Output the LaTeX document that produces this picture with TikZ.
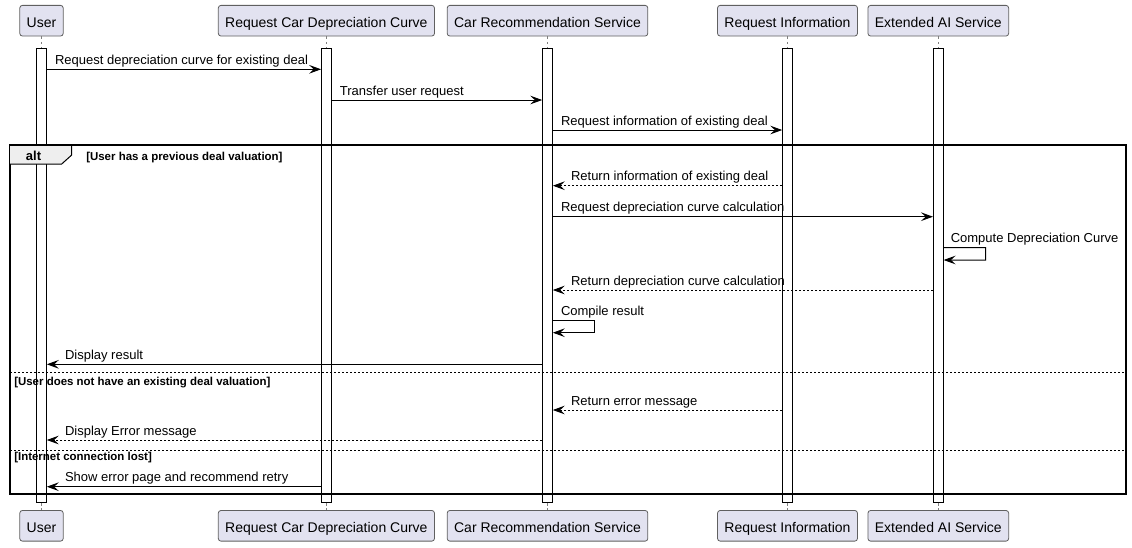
\documentclass[tikz,border=0pt]{standalone}
\usepackage{fontspec}
\setmainfont{Liberation Sans}
\usepackage{tikz}
\usetikzlibrary{arrows.meta, positioning, calc}
\usepackage{xcolor}
\definecolor{partFill}{HTML}{E2E2F0}
\definecolor{partBordo}{HTML}{606060}
\definecolor{altFill}{HTML}{EEEEEE}
\tikzset{
  partecipante/.style={draw=partBordo, fill=partFill, rounded corners=2pt, line width=0.6pt, minimum height=23pt, inner xsep=5.2pt, text height=9.9pt, text depth=0pt, font=\fontsize{10.5}{12}\selectfont},
  barra/.style={draw=black, fill=white, line width=0.75pt, minimum width=7.2pt, minimum height=340.7pt, inner sep=0pt},
  vita/.style={draw=gray, dash pattern=on 2pt off 2pt, line width=0.5pt},
  msg/.style={line width=0.75pt, -{Stealth[length=9pt, width=6.5pt, inset=3.5pt]}},
  ritorno/.style={msg, dash pattern=on 1.5pt off 1.5pt},
  etic/.style={anchor=base west, inner sep=0pt, font=\fontsize{9.75}{11}\selectfont, yshift=3.75pt},
  guardia/.style={anchor=base west, inner sep=0pt, font=\bfseries\fontsize{8.6}{10}\selectfont},
  separa/.style={line width=0.75pt, dash pattern=on 1.5pt off 1.5pt}
}

\begin{document}
\begin{tikzpicture}[x=0.75pt, y=-0.75pt]
    % Parametri
    \pgfmathsetmacro{\xU}{41.5}
    \pgfmathsetmacro{\xR}{326.4}
    \pgfmathsetmacro{\xC}{547.5}
    \pgfmathsetmacro{\xI}{787.5}
    \pgfmathsetmacro{\xE}{938.3}
    \useasboundingbox (0,0) rectangle (1132,547);
    % Partecipanti
    \node[partecipante] (userT) at (\xU,20.7) {User};
    \node[partecipante] (curveT) at (\xR,20.7) {Request Car Depreciation Curve};
    \node[partecipante] (recT) at (\xC,20.7) {Car Recommendation Service};
    \node[partecipante] (infoT) at (\xI,20.7) {Request Information};
    \node[partecipante] (aiT) at (\xE,20.7) {Extended AI Service};
    \node[partecipante] (userB) at (\xU,525.8) {User};
    \node[partecipante] (curveB) at (\xR,525.8) {Request Car Depreciation Curve};
    \node[partecipante] (recB) at (\xC,525.8) {Car Recommendation Service};
    \node[partecipante] (infoB) at (\xI,525.8) {Request Information};
    \node[partecipante] (aiB) at (\xE,525.8) {Extended AI Service};
    % Linee di vita
    \node[barra] (userL) at (\xU,275.2) {};
    \node[barra] (curveL) at (\xR,275.2) {};
    \node[barra] (recL) at (\xC,275.2) {};
    \node[barra] (infoL) at (\xI,275.2) {};
    \node[barra] (aiL) at (\xE,275.2) {};
    \draw[vita] (userT) -- (userL) (userL) -- (userB);
    \draw[vita] (curveT) -- (curveL) (curveL) -- (curveB);
    \draw[vita] (recT) -- (recL) (recL) -- (recB);
    \draw[vita] (infoT) -- (infoL) (infoL) -- (infoB);
    \draw[vita] (aiT) -- (aiL) (aiL) -- (aiB);
    % Messaggi iniziali
    \draw[msg] (userL.east |- 0,69.3) -- (curveL.west |- 0,69.3) node[pos=0, etic, xshift=5.8pt]{Request depreciation curve for existing deal};
    \draw[msg] (curveL.east |- 0,100) -- (recL.west |- 0,100) node[pos=0, etic, xshift=5.8pt]{Transfer user request};
    \draw[msg] (recL.east |- 0,130) -- (infoL.west |- 0,130) node[pos=0, etic, xshift=5.8pt]{Request information of existing deal};
    % Riquadro alt
    \draw[line width=1.5pt] (10,145.3) rectangle (1126,494);
    \draw[fill=altFill, line width=0.75pt] (10,145.3) -- (71.7,145.3) -- (71.7,155) -- (61.7,164) -- (10,164);
    \node[anchor=base, inner sep=0pt, font=\bfseries\fontsize{9.75}{11}\selectfont] (altLab) at (33.5,160) {alt};
    \node[guardia] (g1) at (86,160.5) {[User has a previous deal valuation]};
    \draw[separa] (10,372.7) -- (1126,372.7);
    \node[guardia] (g2) at (14,385) {[User does not have an existing deal valuation]};
    \draw[separa] (10,450.7) -- (1126,450.7);
    \node[guardia] (g3) at (14,460.5) {[Internet connection lost]};
    % Primo caso
    \draw[ritorno] (infoL.west |- 0,185.7) -- (recL.east |- 0,185.7) node[pos=1, etic, xshift=13.3pt]{Return information of existing deal};
    \draw[msg] (recL.east |- 0,216.7) -- (aiL.west |- 0,216.7) node[pos=0, etic, xshift=5.8pt]{Request depreciation curve calculation};
    \draw[msg] (aiL.east |- 0,247.7) node[etic, xshift=5pt]{Compute Depreciation Curve} -- ++(42,0) -- ++(0,12.3) -- (aiL.east |- 0,260);
    \draw[ritorno] (aiL.west |- 0,290) -- (recL.east |- 0,290) node[pos=1, etic, xshift=13.3pt]{Return depreciation curve calculation};
    \draw[msg] (recL.east |- 0,320.7) node[etic, xshift=5.8pt]{Compile result} -- ++(42,0) -- ++(0,12) -- (recL.east |- 0,332.7);
    \draw[msg] (recL.west |- 0,364.3) -- (userL.east |- 0,364.3) node[pos=1, etic, xshift=13.3pt]{Display result};
    % Secondo caso
    \draw[ritorno] (infoL.west |- 0,410) -- (recL.east |- 0,410) node[pos=1, etic, xshift=13.3pt]{Return error message};
    \draw[ritorno] (recL.west |- 0,440) -- (userL.east |- 0,440) node[pos=1, etic, xshift=13.3pt]{Display Error message};
    % Terzo caso
    \draw[msg] (curveL.west |- 0,486.7) -- (userL.east |- 0,486.7) node[pos=1, etic, xshift=13.3pt]{Show error page and recommend retry};
\end{tikzpicture}
\end{document}
